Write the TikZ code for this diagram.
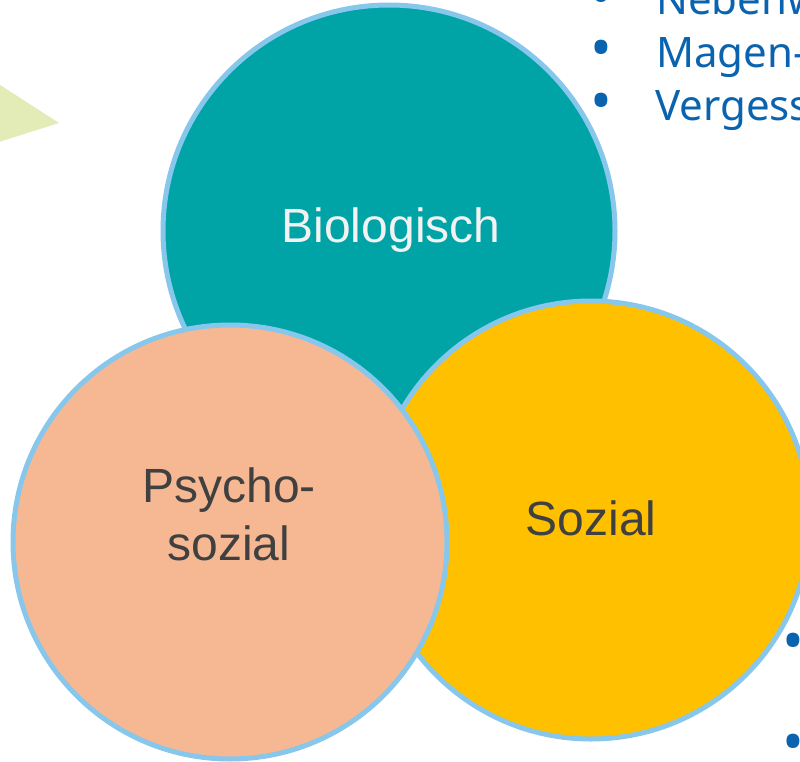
\documentclass[tikz,border=0pt]{standalone}
\usepackage{fontspec}
\setmainfont{Liberation Sans}
\newfontfamily\notosans{Noto Sans}
\definecolor{teal1}{HTML}{00A4A7}
\definecolor{gold1}{HTML}{FFC000}
\definecolor{peach1}{HTML}{F6B893}
\definecolor{rim1}{HTML}{88C7EC}
\definecolor{gray1}{HTML}{404040}
\definecolor{white1}{HTML}{F2F2F2}
\definecolor{blue1}{HTML}{0A63AE}
\definecolor{lime1}{HTML}{E3EBB6}
\tikzset{
  bubble/.style={line width=5pt, draw=rim1},
  bigtext/.style={font=\fontsize{48}{58}\selectfont, inner sep=0pt},
  listtext/.style={font=\notosans\fontsize{42}{53}\selectfont, text=blue1, inner sep=0pt},
  dotmark/.style={font=\notosans\fontsize{58}{58}\selectfont, text=blue1, inner sep=0pt, anchor=center},
}
\begin{document}
\begin{tikzpicture}[x=1pt,y=-1pt]
\useasboundingbox (0,0) rectangle (800,762);
\clip (0,0) rectangle (800,762);
% triangle at left
\fill[lime1] (-20,72) -- (59,123) -- (-20,148) -- cycle;
% circles
\draw[bubble, fill=teal1] (389,231) circle (226);
\draw[bubble, fill=gold1] (591,520) circle (219);
\draw[bubble, fill=peach1] (230,542) circle (217);
% labels
\node[bigtext, text=white1, anchor=base] (bio) at (391,242) {Biologisch};
\node[bigtext, text=gray1, align=center] (psy) at (229,514) {Psycho-\\sozial};
\node[bigtext, text=gray1, anchor=base] (soz) at (591,535) {Sozial};
% top-right list
\node[dotmark] (b1) at (601,2) {•};
\node[listtext, anchor=base west] (t1) at (656,15) {Nebenw};
\node[dotmark] (b2) at (601,54) {•};
\node[listtext, anchor=base west] (t2) at (656,68) {Magen-};
\node[dotmark] (b3) at (601,107) {•};
\node[listtext, anchor=base west] (t3) at (655,121) {Vergess};
% bottom-right list bullets
\node[dotmark] (b4) at (793,647) {•};
\node[dotmark] (b5) at (793,748) {•};
\end{tikzpicture}
\end{document}
